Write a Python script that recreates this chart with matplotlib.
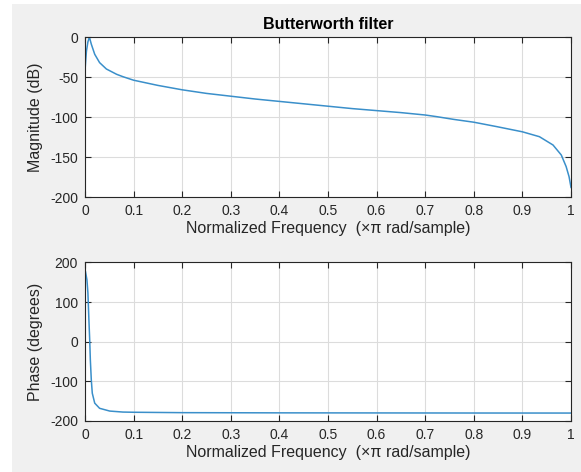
import matplotlib.pyplot as plt
from matplotlib.patches import Rectangle
from matplotlib.ticker import FuncFormatter

plt.rcParams['font.family'] = ['Liberation Sans', 'DejaVu Sans']
plt.rcParams['axes.unicode_minus'] = False

# magnitude response
freq_mag = [0, 0.0014, 0.003, 0.006, 0.009, 0.013, 0.02, 0.03, 0.044, 0.065,
            0.078, 0.1, 0.15, 0.2, 0.25, 0.3, 0.35, 0.4, 0.45, 0.5, 0.55, 0.6,
            0.65, 0.7, 0.724, 0.759, 0.8, 0.847, 0.9, 0.935, 0.963, 0.98,
            0.99, 0.996, 1.0]
mag_db = [-42, -30, -17.5, -6, 0, -9, -21.6, -32, -40, -46.6,
          -49.6, -54, -60.5, -66, -70.5, -74, -77.5, -80.5, -83.5, -86.5, -89.5, -92,
          -94.5, -97.5, -99.6, -103, -106.5, -112, -118.5, -124.6, -135, -147.5,
          -162, -174.6, -188]

# phase response
freq_ph = [0, 0.001, 0.004, 0.006, 0.008, 0.0097, 0.011, 0.013, 0.015, 0.02,
           0.03, 0.051, 0.078, 0.1, 0.2, 0.4, 0.6, 0.8, 1.0]
phase_deg = [180, 177, 156, 123, 56, 4, -46, -97, -130, -155,
             -168, -175, -177.5, -178, -179, -179.5, -179.7, -179.9, -180]

line_col = '#3a8fca'
txt_col = '#262626'

fig = plt.figure(figsize=(5.81, 4.72), dpi=100)
fig.patch.set_facecolor('white')
fig.patches.append(Rectangle((12 / 581, 0), 1, 1 - 4 / 472, transform=fig.transFigure,
                             facecolor='#f0f0f0', edgecolor='none', zorder=-1))

ax1 = fig.add_axes([0.1463, 0.5826, 0.8365, 0.339])
ax2 = fig.add_axes([0.1463, 0.1081, 0.8365, 0.3358])

ax1.plot(freq_mag, mag_db, color=line_col, lw=1.1)
ax2.plot(freq_ph, phase_deg, color=line_col, lw=1.1)

fmt = FuncFormatter(lambda v, p: '%g' % round(v, 2))
for ax in (ax1, ax2):
    ax.set_facecolor('white')
    ax.set_xlim(0, 1)
    ax.set_xticks([i / 10 for i in range(11)])
    ax.xaxis.set_major_formatter(fmt)
    ax.grid(True, color='#dcdcdc', lw=0.8)
    ax.set_axisbelow(True)
    ax.tick_params(direction='in', top=True, right=True, length=4, width=0.8,
                   colors=txt_col, labelsize=10, pad=5)
    for s in ax.spines.values():
        s.set_color(txt_col)
        s.set_linewidth(0.8)
    ax.set_xlabel('Normalized Frequency  (×π rad/sample)', fontsize=11.5, color=txt_col, labelpad=2)

ax1.set_ylim(-200, 0)
ax1.set_yticks(range(-200, 1, 50))
ax1.set_ylabel('Magnitude (dB)', fontsize=11.5, color=txt_col, labelpad=5)
ax1.set_title('Butterworth filter', fontsize=11.5, fontweight='bold', color='black', pad=6)

ax2.set_ylim(-200, 200)
ax2.set_yticks(range(-200, 201, 100))
ax2.set_ylabel('Phase (degrees)', fontsize=11.5, color=txt_col, labelpad=5)

fig.savefig('out.png', dpi=100, facecolor=fig.get_facecolor())
